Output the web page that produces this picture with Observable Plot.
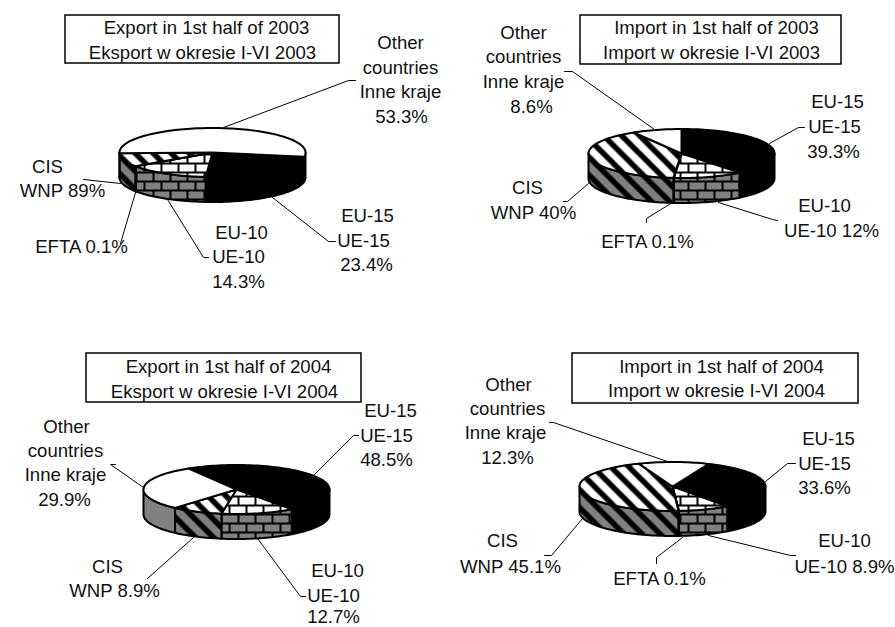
<!DOCTYPE html>
<html>
<head>
<meta charset="utf-8">
<script src="https://cdn.jsdelivr.net/npm/d3@7"></script>
<script src="https://cdn.jsdelivr.net/npm/@observablehq/plot@0.6"></script>
<style>
  html, body { margin: 0; padding: 0; background: #fff; }
  svg { display: block; }
</style>
</head>
<body>
<div id="chart"></div>
<script>
// Shares of trade by partner group, in percent.
const categories = ["EU-15", "EU-10", "EFTA", "CIS", "Other countries"];
const export2003 = [23.4, 14.3, 0.1, 8.9, 53.3];
const import2003 = [39.3, 12, 0.1, 40, 8.6];
const export2004 = [48.5, 12.7, 0, 8.9, 29.9];
const import2004 = [33.6, 8.9, 0.1, 45.1, 12.3];

// Text exactly as printed on each panel. The source prints "WNP 89%" for the
// 2003 export CIS share; its wedge is 8.9, which is what brings the total to 100.
const titles = [
  ["Export in 1st half of 2003", "Eksport w okresie I-VI 2003"],
  ["Import in 1st half of 2003", "Import w okresie I-VI 2003"],
  ["Export in 1st half of 2004", "Eksport w okresie I-VI 2004"],
  ["Import in 1st half of 2004", "Import w okresie I-VI 2004"]
];

// Per-panel layout: pie centre, rotation of the first slice, title box, labels, leaders.
const panels = [
  {
    values: export2003, cx: 212, cy: 152, start: 100,
    box: [65, 339, 15, 63], titleAt: [[206, 28], [202, 53]],
    labels: [
      ["Other", 400, 43], ["countries", 400, 68], ["Inne kraje", 400, 92], ["53.3%", 401, 117],
      ["CIS", 47, 167], ["WNP 89%", 62, 191],
      ["EFTA 0.1%", 81, 247],
      ["EU-10", 241, 233], ["UE-10", 238, 257], ["14.3%", 238, 282],
      ["EU-15", 367, 216], ["UE-15", 363, 241], ["23.4%", 366, 265]
    ],
    leaders: [
      [[355, 80], [348, 80], [223, 127]],
      [[335, 241], [328, 241], [272, 197]],
      [[208, 257], [203, 257], [167, 199]],
      [[120, 243], [135, 192]],
      [[83, 179], [120, 183]]
    ]
  },
  {
    values: import2003, cx: 681, cy: 153, start: 0,
    box: [580, 841, 15, 64], titleAt: [[716, 28], [711, 53]],
    labels: [
      ["Other", 523, 33], ["countries", 523, 57], ["Inne kraje", 523, 82], ["8.6%", 531, 107],
      ["EU-15", 837, 102], ["UE-15", 834, 127], ["39.3%", 833, 152],
      ["CIS", 527, 188], ["WNP 40%", 533, 213],
      ["EFTA 0.1%", 647, 242],
      ["EU-10", 824, 206], ["UE-10 12%", 831, 231]
    ],
    leaders: [
      [[564, 71], [572, 71], [654, 129]],
      [[804, 127], [798, 127], [769, 143]],
      [[777, 220], [772, 219], [718, 202]],
      [[646, 222], [646, 218], [672, 202]],
      [[563, 201], [567, 201], [588, 183]]
    ]
  },
  {
    values: export2004, cx: 236, cy: 489, start: 329,
    box: [86, 361, 353, 402], titleAt: [[228, 367], [224, 392]],
    labels: [
      ["Other", 66, 427], ["countries", 65, 451], ["Inne kraje", 65, 475], ["29.9%", 64, 500],
      ["EU-15", 390, 411], ["UE-15", 386, 436], ["48.5%", 386, 460],
      ["CIS", 107, 567], ["WNP 8.9%", 114, 591],
      ["EU-10", 337, 571], ["UE-10", 333, 596], ["12.7%", 333, 617]
    ],
    leaders: [
      [[115, 464], [110, 464], [143, 487]],
      [[358, 435], [353, 435], [314, 474]],
      [[305, 596], [300, 596], [257, 538]],
      [[147, 578], [193, 537]]
    ]
  },
  {
    values: import2004, cx: 672, cy: 486, start: 23,
    box: [572, 858, 353, 403], titleAt: [[721, 367], [716, 391]],
    labels: [
      ["Other", 508, 385], ["countries", 507, 409], ["Inne kraje", 505, 433], ["12.3%", 507, 458],
      ["EU-15", 828, 439], ["UE-15", 824, 464], ["33.6%", 824, 488],
      ["CIS", 502, 541], ["WNP 45.1%", 510, 567],
      ["EFTA 0.1%", 659, 579],
      ["EU-10", 844, 541], ["UE-10 8.9%", 844, 567]
    ],
    leaders: [
      [[549, 422], [553, 422], [667, 461]],
      [[795, 463], [787, 463], [765, 481]],
      [[795, 555], [790, 555], [708, 535]],
      [[656, 563], [656, 557], [682, 537]],
      [[544, 555], [551, 555], [582, 518]]
    ]
  }
];

// Pie proportions: horizontal radius, vertical radius of the tilted disc, wall height.
const rx = 93, ry = 24.5, depth = 25;

// Fill of each category on the top face and on the wall.
const sliceFill = {
  "EU-15": {top: "#000", wall: "#000"},
  "EU-10": {top: "url(#brick-top)", wall: "url(#brick-wall)"},
  "EFTA": {top: "#fff", wall: "#808080"},
  "CIS": {top: "url(#stripe-top)", wall: "url(#stripe-wall)"},
  "Other countries": {top: "#fff", wall: "#808080"}
};

// A point on the rim, with angles measured clockwise from twelve o'clock.
const rim = (p, deg, drop = 0) => {
  const a = deg * Math.PI / 180;
  return {x: p.cx + rx * Math.sin(a), y: p.cy - ry * Math.cos(a) + drop};
};

const arc = (p, a0, a1, drop = 0) => {
  const n = Math.max(1, Math.ceil(Math.abs(a1 - a0) / 2));
  return d3.range(n + 1).map((i) => rim(p, a0 + (a1 - a0) * i / n, drop));
};

// Angular extents of the slices of one pie.
function slices(p) {
  let angle = p.start;
  return categories.map((name, i) => {
    const a0 = angle;
    angle += p.values[i] * 3.6;
    return {name, value: p.values[i], a0, a1: angle};
  }).filter((s) => s.value > 0);
}

// Only the front half of the rim (90° to 270°) shows a wall.
function wallPolygons(p, s) {
  const out = [];
  for (const shift of [0, 360]) {
    const lo = Math.max(s.a0, 90 + shift), hi = Math.min(s.a1, 270 + shift);
    if (hi > lo) out.push([...arc(p, lo, hi), ...arc(p, hi, lo, depth)]);
  }
  return out;
}

const faceStyle = {x: "x", y: "y", curve: "linear-closed", stroke: "#000", strokeWidth: 2, strokeLinejoin: "round"};

const pieMarks = panels.flatMap((p) => {
  const parts = slices(p);
  const walls = parts.flatMap((s) =>
    wallPolygons(p, s).map((poly) => Plot.line(poly, {...faceStyle, fill: sliceFill[s.name].wall})));
  const tops = parts.map((s) =>
    Plot.line([{x: p.cx, y: p.cy}, ...arc(p, s.a0, s.a1)], {...faceStyle, fill: sliceFill[s.name].top}));
  return [...walls, ...tops];
});

const font = {fontFamily: "Liberation Sans, Arial, sans-serif", fontSize: 18.6, fill: "#111"};

const annotationMarks = panels.flatMap((p, i) => [
  ...p.leaders.map((pts) => Plot.line(pts, {x: (d) => d[0], y: (d) => d[1], stroke: "#000", strokeWidth: 1})),
  Plot.rect([p.box], {x1: (d) => d[0], x2: (d) => d[1], y1: (d) => d[2], y2: (d) => d[3], fill: "#fff", stroke: "#000", strokeWidth: 1.5}),
  Plot.text(titles[i].map((t, j) => [t, ...p.titleAt[j]]), {x: (d) => d[1], y: (d) => d[2], text: (d) => d[0], ...font}),
  Plot.text(p.labels, {x: (d) => d[1], y: (d) => d[2], text: (d) => d[0], ...font})
]);

const chart = Plot.plot({
  width: 895,
  height: 627,
  margin: 0,
  style: {background: "#fff"},
  x: {domain: [0, 895], range: [0, 895], axis: null},
  y: {domain: [0, 627], range: [0, 627], axis: null},
  marks: [...pieMarks, ...annotationMarks]
});

// Hatch patterns used by the pie faces.
const brick = (bg) => `
  <rect width="34" height="18" fill="${bg}"/>
  <path d="M0,1H34M0,10H34M8,1V10M25,1V10M0,10V18M17,10V18M34,10V18" stroke="#000" stroke-width="2" fill="none"/>`;
const stripe = (bg) => `
  <rect width="18" height="18" fill="${bg}"/>
  <path d="M-2,-2L20,20M-2,16L2,20M16,-2L20,2" stroke="#000" stroke-width="5.5" fill="none"/>`;
d3.select(chart).insert("defs", ":first-child").html(`
  <pattern id="brick-top" patternUnits="userSpaceOnUse" width="34" height="18">${brick("#fff")}</pattern>
  <pattern id="brick-wall" patternUnits="userSpaceOnUse" width="34" height="18">${brick("#808080")}</pattern>
  <pattern id="stripe-top" patternUnits="userSpaceOnUse" width="18" height="18">${stripe("#fff")}</pattern>
  <pattern id="stripe-wall" patternUnits="userSpaceOnUse" width="18" height="18">${stripe("#808080")}</pattern>
`);

document.getElementById("chart").append(chart);
</script>
</body>
</html>
